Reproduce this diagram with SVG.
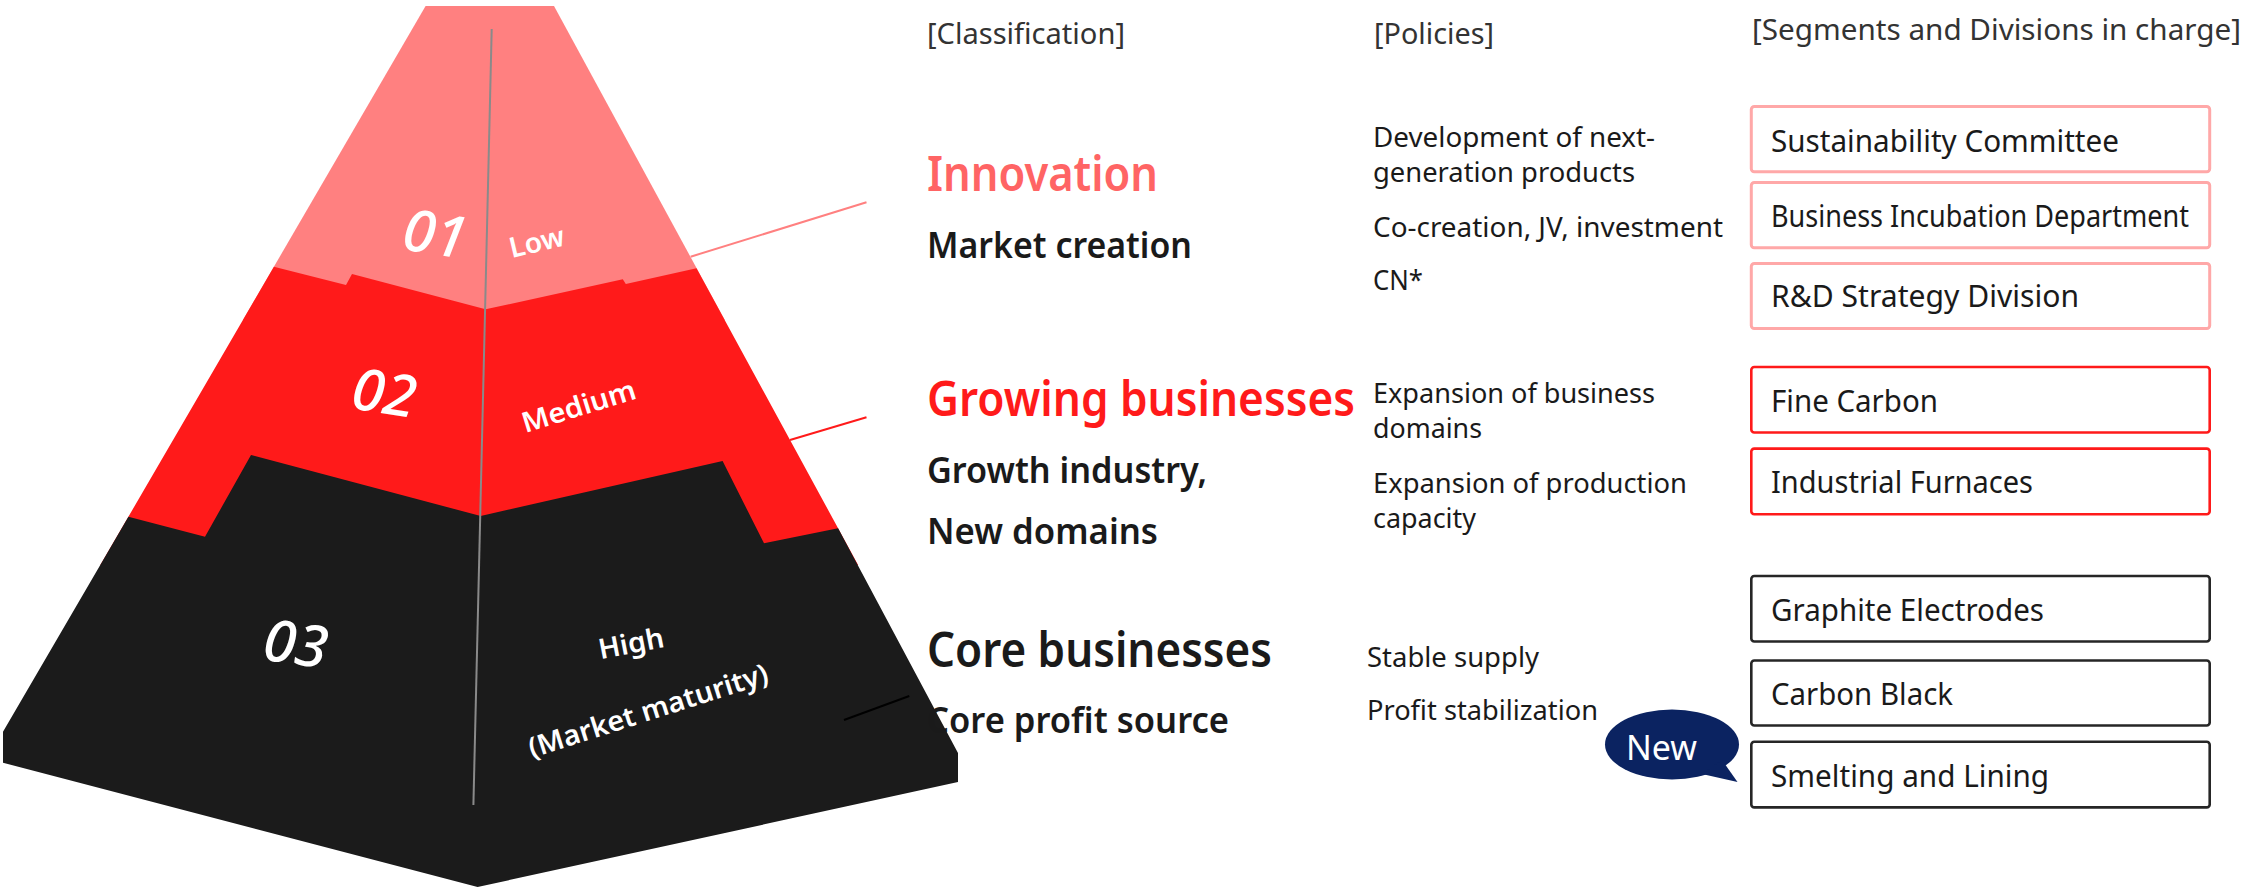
<svg xmlns="http://www.w3.org/2000/svg" width="2246" height="887" viewBox="0 0 2246 887">
  <style>
    text { font-family: "Noto Sans", "Open Sans", "Liberation Sans", sans-serif; }
    .hdr { font-size: 29px; fill: #333333; }
    .big { font-size: 48px; font-weight: 600; }
    .sub { font-size: 36px; font-weight: 600; fill: #1a1a1a; }
    .pol { font-size: 28px; fill: #1a1a1a; }
    .box { fill: #ffffff; stroke-width: 2.6; }
    .box-pink { stroke: #ffa8a8; stroke-width: 3; }
    .box-red { stroke: #ff1a1a; }
    .box-dark { stroke: #262626; }
    .boxtxt { font-size: 30px; fill: #1a1a1a; }
    .num { font-size: 58px; font-weight: 500; font-style: italic; fill: #ffffff; text-anchor: middle; }
    .lvl { font-size: 28px; font-weight: 600; fill: #ffffff; text-anchor: middle; }
    .lead { stroke-width: 2; fill: none; }
  </style>

  <!-- Pyramid: three stacked tiers -->
  <g id="tier-01">
    <polygon points="425.6,6 554,6 724.8,320 242.9,320" fill="#ff8080"/>
    <text class="num" transform="translate(432,254) rotate(9)">01</text>
    <text class="lvl" transform="translate(539,251.5) rotate(-13.3)" textLength="56" lengthAdjust="spacingAndGlyphs">Low</text>
  </g>
  <g id="tier-02">
    <polygon points="273.9,266.7 346,285 352,274 485.6,309.3 622.8,279.3 625.8,284 696.5,268.3 858.1,565 100.3,565" fill="#ff1a1a"/>
    <text class="num" transform="translate(381,413) rotate(9)">02</text>
    <text class="lvl" transform="translate(581.5,415.5) rotate(-17.2)" textLength="118" lengthAdjust="spacingAndGlyphs">Medium</text>
  </g>
  <g id="tier-03">
    <polygon points="128.4,516.7 205,536.7 251,455 480.7,516 722.6,461 764,543.3 838.1,528.3 958,753 958,782 477.6,887 3,762.7 3,731.7" fill="#1b1b1b"/>
    <text class="num" transform="translate(293,664) rotate(8)">03</text>
    <text class="lvl" font-size="30" transform="translate(633,653) rotate(-11)" textLength="66" lengthAdjust="spacingAndGlyphs">High</text>
    <text class="lvl" font-size="30" transform="translate(651,720) rotate(-17.7)" textLength="250" lengthAdjust="spacingAndGlyphs">(Market maturity)</text>
  </g>
  <g id="pyramid-ridge">
    <line x1="491.7" y1="29" x2="473.4" y2="805" stroke="#8a8a8a" stroke-width="2"/>
  </g>

  <!-- Leader lines from each tier -->
  <g id="connectors">
    <line class="lead" x1="690.6" y1="256.7" x2="866.5" y2="202.3" stroke="#ff8080"/>
    <line class="lead" x1="790" y1="440" x2="866.5" y2="417.3" stroke="#ff1a1a"/>
    <line class="lead" x1="844" y1="720" x2="909.3" y2="696" stroke="#000000"/>
  </g>

  <!-- Column headings -->
  <g id="headings">
    <text class="hdr" x="927" y="44" textLength="198" lengthAdjust="spacingAndGlyphs">[Classification]</text>
    <text class="hdr" x="1374" y="44" textLength="120" lengthAdjust="spacingAndGlyphs">[Policies]</text>
    <text class="hdr" x="1752" y="40" font-size="30" textLength="489" lengthAdjust="spacingAndGlyphs">[Segments and Divisions in charge]</text>
  </g>

  <!-- Classification -->
  <g id="class-innovation">
    <text class="big" x="927" y="191" fill="#ff6464" textLength="231" lengthAdjust="spacingAndGlyphs">Innovation</text>
    <text class="sub" x="927" y="257.7" textLength="265" lengthAdjust="spacingAndGlyphs">Market creation</text>
  </g>
  <g id="class-growing">
    <text class="big" x="927" y="416" fill="#ff1a1a" textLength="428" lengthAdjust="spacingAndGlyphs">Growing businesses</text>
    <text class="sub" x="927" y="482.7" textLength="280" lengthAdjust="spacingAndGlyphs">Growth industry,</text>
    <text class="sub" x="927" y="544" textLength="231" lengthAdjust="spacingAndGlyphs">New domains</text>
  </g>
  <g id="class-core">
    <text class="big" x="927" y="666.7" fill="#1a1a1a" textLength="345" lengthAdjust="spacingAndGlyphs">Core businesses</text>
    <text class="sub" x="927" y="733.3" textLength="302" lengthAdjust="spacingAndGlyphs">Core profit source</text>
  </g>

  <!-- Policies -->
  <g id="policies-innovation">
    <text class="pol" x="1373" y="146.7" textLength="282" lengthAdjust="spacingAndGlyphs">Development of next-</text>
    <text class="pol" x="1373" y="181.7" textLength="262" lengthAdjust="spacingAndGlyphs">generation products</text>
    <text class="pol" x="1373" y="236.7" textLength="350" lengthAdjust="spacingAndGlyphs">Co-creation, JV, investment</text>
    <text class="pol" x="1373" y="290" textLength="50" lengthAdjust="spacingAndGlyphs">CN*</text>
  </g>
  <g id="policies-growing">
    <text class="pol" x="1373" y="403.3" textLength="282" lengthAdjust="spacingAndGlyphs">Expansion of business</text>
    <text class="pol" x="1373" y="438.3" textLength="109" lengthAdjust="spacingAndGlyphs">domains</text>
    <text class="pol" x="1373" y="493.3" textLength="314" lengthAdjust="spacingAndGlyphs">Expansion of production</text>
    <text class="pol" x="1373" y="528.3" textLength="103" lengthAdjust="spacingAndGlyphs">capacity</text>
  </g>
  <g id="policies-core">
    <text class="pol" x="1367" y="666.7" textLength="172" lengthAdjust="spacingAndGlyphs">Stable supply</text>
    <text class="pol" x="1367" y="720" textLength="231" lengthAdjust="spacingAndGlyphs">Profit stabilization</text>
  </g>

  <!-- Segments and divisions in charge -->
  <g id="seg-sustainability">
    <rect class="box box-pink" x="1751.3" y="106.5" width="458.4" height="65.3" rx="3"/>
    <text class="boxtxt" x="1771" y="151.7" textLength="348" lengthAdjust="spacingAndGlyphs">Sustainability Committee</text>
  </g>
  <g id="seg-incubation">
    <rect class="box box-pink" x="1751.3" y="182.5" width="458.4" height="65.3" rx="3"/>
    <text class="boxtxt" x="1771" y="226.7" textLength="418" lengthAdjust="spacingAndGlyphs">Business Incubation Department</text>
  </g>
  <g id="seg-rnd">
    <rect class="box box-pink" x="1751.3" y="263.5" width="458.4" height="65" rx="3"/>
    <text class="boxtxt" x="1771" y="306.7" textLength="308" lengthAdjust="spacingAndGlyphs">R&amp;D Strategy Division</text>
  </g>
  <g id="seg-fine-carbon">
    <rect class="box box-red" x="1751.3" y="367" width="458.4" height="65.5" rx="3"/>
    <text class="boxtxt" x="1771" y="411.7" textLength="167" lengthAdjust="spacingAndGlyphs">Fine Carbon</text>
  </g>
  <g id="seg-furnaces">
    <rect class="box box-red" x="1751.3" y="448.6" width="458.4" height="65.7" rx="3"/>
    <text class="boxtxt" x="1771" y="492.7" textLength="262" lengthAdjust="spacingAndGlyphs">Industrial Furnaces</text>
  </g>
  <g id="seg-electrodes">
    <rect class="box box-dark" x="1751.3" y="576" width="458.4" height="65.5" rx="3"/>
    <text class="boxtxt" x="1771" y="620.7" textLength="273" lengthAdjust="spacingAndGlyphs">Graphite Electrodes</text>
  </g>
  <g id="seg-carbon-black">
    <rect class="box box-dark" x="1751.3" y="660.5" width="458.4" height="65" rx="3"/>
    <text class="boxtxt" x="1771" y="705" textLength="182" lengthAdjust="spacingAndGlyphs">Carbon Black</text>
  </g>
  <g id="seg-smelting">
    <rect class="box box-dark" x="1751.3" y="741.8" width="458.4" height="65.6" rx="3"/>
    <text class="boxtxt" x="1771" y="786.7" textLength="278" lengthAdjust="spacingAndGlyphs">Smelting and Lining</text>
  </g>

  <!-- "New" callout -->
  <g id="badge-new">
    <ellipse cx="1672" cy="744.5" rx="67" ry="35" fill="#0b2361"/>
    <polygon points="1722,760 1737.5,782 1702,774" fill="#0b2361"/>
    <text x="1626" y="760" font-size="34" fill="#ffffff" textLength="71" lengthAdjust="spacingAndGlyphs">New</text>
  </g>
</svg>
